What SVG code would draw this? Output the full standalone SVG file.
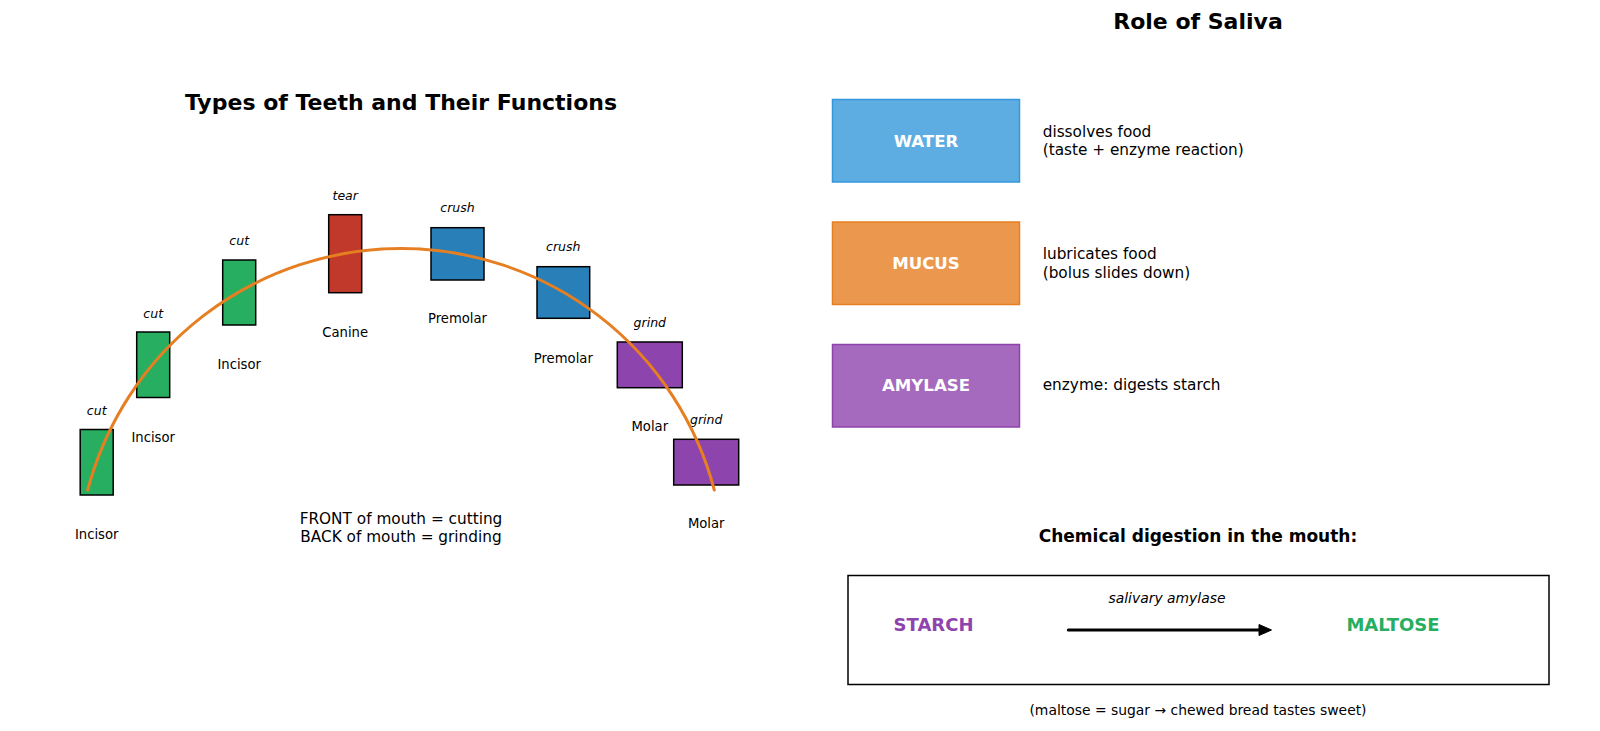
<svg xmlns="http://www.w3.org/2000/svg" width="1600" height="731" viewBox="0 0 1600 731">
<style>
text{font-family:"DejaVu Sans","Liberation Sans",sans-serif;fill:#000}
.title{font-size:22px;font-weight:bold}
.sub{font-size:17px;font-weight:bold}
.fn{font-size:12.5px;font-style:italic}
.nm{font-size:13.2px}
.tooth{stroke:#000;stroke-width:1.5}
.inc{fill:#27ae60}.can{fill:#c0392b}.pre{fill:#2980b9}.mol{fill:#8e44ad}
.note{font-size:15.3px}
.blab{font-size:16.6px;font-weight:bold;fill:#fff}
.desc{font-size:15.3px}
</style>
<rect width="1600" height="731" fill="#fff"/>
<text class="title" x="401" y="110" text-anchor="middle">Types of Teeth and Their Functions</text>
<text class="title" x="1198" y="29" text-anchor="middle">Role of Saliva</text>

<g id="tooth-incisor-1"><rect class="tooth inc" x="80.2" y="429.5" width="33" height="65.5"/><text class="fn" x="96.7" y="415" text-anchor="middle">cut</text><text class="nm" x="96.7" y="539.3" text-anchor="middle">Incisor</text></g>
<g id="tooth-incisor-2"><rect class="tooth inc" x="136.7" y="332" width="33" height="65.5"/><text class="fn" x="153.2" y="317.7" text-anchor="middle">cut</text><text class="nm" x="153.2" y="441.7" text-anchor="middle">Incisor</text></g>
<g id="tooth-incisor-3"><rect class="tooth inc" x="222.7" y="260" width="33" height="65"/><text class="fn" x="239.2" y="245" text-anchor="middle">cut</text><text class="nm" x="239.2" y="369" text-anchor="middle">Incisor</text></g>
<g id="tooth-canine"><rect class="tooth can" x="328.7" y="214.7" width="33" height="78"/><text class="fn" x="345.2" y="200" text-anchor="middle">tear</text><text class="nm" x="345.2" y="337.3" text-anchor="middle">Canine</text></g>
<g id="tooth-premolar-1"><rect class="tooth pre" x="431" y="227.7" width="53" height="52.3"/><text class="fn" x="457.5" y="212.3" text-anchor="middle">crush</text><text class="nm" x="457.5" y="323.3" text-anchor="middle">Premolar</text></g>
<g id="tooth-premolar-2"><rect class="tooth pre" x="537" y="266.7" width="52.7" height="51.6"/><text class="fn" x="563.3" y="251" text-anchor="middle">crush</text><text class="nm" x="563.3" y="362.7" text-anchor="middle">Premolar</text></g>
<g id="tooth-molar-1"><rect class="tooth mol" x="617.3" y="342" width="65" height="45.7"/><text class="fn" x="649.8" y="326.7" text-anchor="middle">grind</text><text class="nm" x="649.8" y="431" text-anchor="middle">Molar</text></g>
<g id="tooth-molar-2"><rect class="tooth mol" x="673.7" y="439.3" width="65" height="45.7"/><text class="fn" x="706.2" y="424" text-anchor="middle">grind</text><text class="nm" x="706.2" y="528.3" text-anchor="middle">Molar</text></g>

<g id="jaw-arc"><path d="M 87.7 490 A 324 324 0 0 1 714.3 490" fill="none" stroke="#e67e22" stroke-width="3" stroke-linecap="round"/></g>

<g id="mouth-note"><text class="note" x="401" y="524" text-anchor="middle">FRONT of mouth = cutting</text><text class="note" x="401" y="541.5" text-anchor="middle">BACK of mouth = grinding</text></g>

<g id="saliva-water"><rect x="832.5" y="99.5" width="187" height="82.5" fill="#5dade2" stroke="#3498db" stroke-width="1.5"/><text class="blab" x="926" y="146.7" text-anchor="middle">WATER</text><text class="desc" x="1042.7" y="136.7">dissolves food</text><text class="desc" x="1042.7" y="155">(taste + enzyme reaction)</text></g>
<g id="saliva-mucus"><rect x="832.5" y="222" width="187" height="82.5" fill="#eb984e" stroke="#e67e22" stroke-width="1.5"/><text class="blab" x="926" y="269" text-anchor="middle">MUCUS</text><text class="desc" x="1042.7" y="259">lubricates food</text><text class="desc" x="1042.7" y="277.7">(bolus slides down)</text></g>
<g id="saliva-amylase"><rect x="832.5" y="344.5" width="187" height="82.5" fill="#a569bd" stroke="#8e44ad" stroke-width="1.5"/><text class="blab" x="926" y="390.7" text-anchor="middle">AMYLASE</text><text class="desc" x="1042.7" y="390">enzyme: digests starch</text></g>

<text class="sub" x="1198" y="542" text-anchor="middle">Chemical digestion in the mouth:</text>
<g id="reaction-box"><rect x="848" y="575.5" width="701" height="109" fill="none" stroke="#000" stroke-width="1.5"/></g>
<g id="starch"><text x="933.5" y="630.7" text-anchor="middle" style="font-size:18px;font-weight:bold;fill:#8e44ad">STARCH</text></g>
<g id="maltose"><text x="1393" y="630.7" text-anchor="middle" style="font-size:18px;font-weight:bold;fill:#27ae60">MALTOSE</text></g>
<g id="connectors">
<line x1="1068.3" y1="630" x2="1262" y2="630" stroke="#000" stroke-width="3" stroke-linecap="round"/>
<polygon points="1259,624.5 1271.5,630 1259,635.5" fill="#000" stroke="#000" stroke-width="1" stroke-linejoin="round"/>
<text x="1167" y="602.7" text-anchor="middle" style="font-size:13.9px;font-style:italic">salivary amylase</text>
</g>
<text x="1198" y="715" text-anchor="middle" style="font-size:13.9px">(maltose = sugar → chewed bread tastes sweet)</text>
</svg>
